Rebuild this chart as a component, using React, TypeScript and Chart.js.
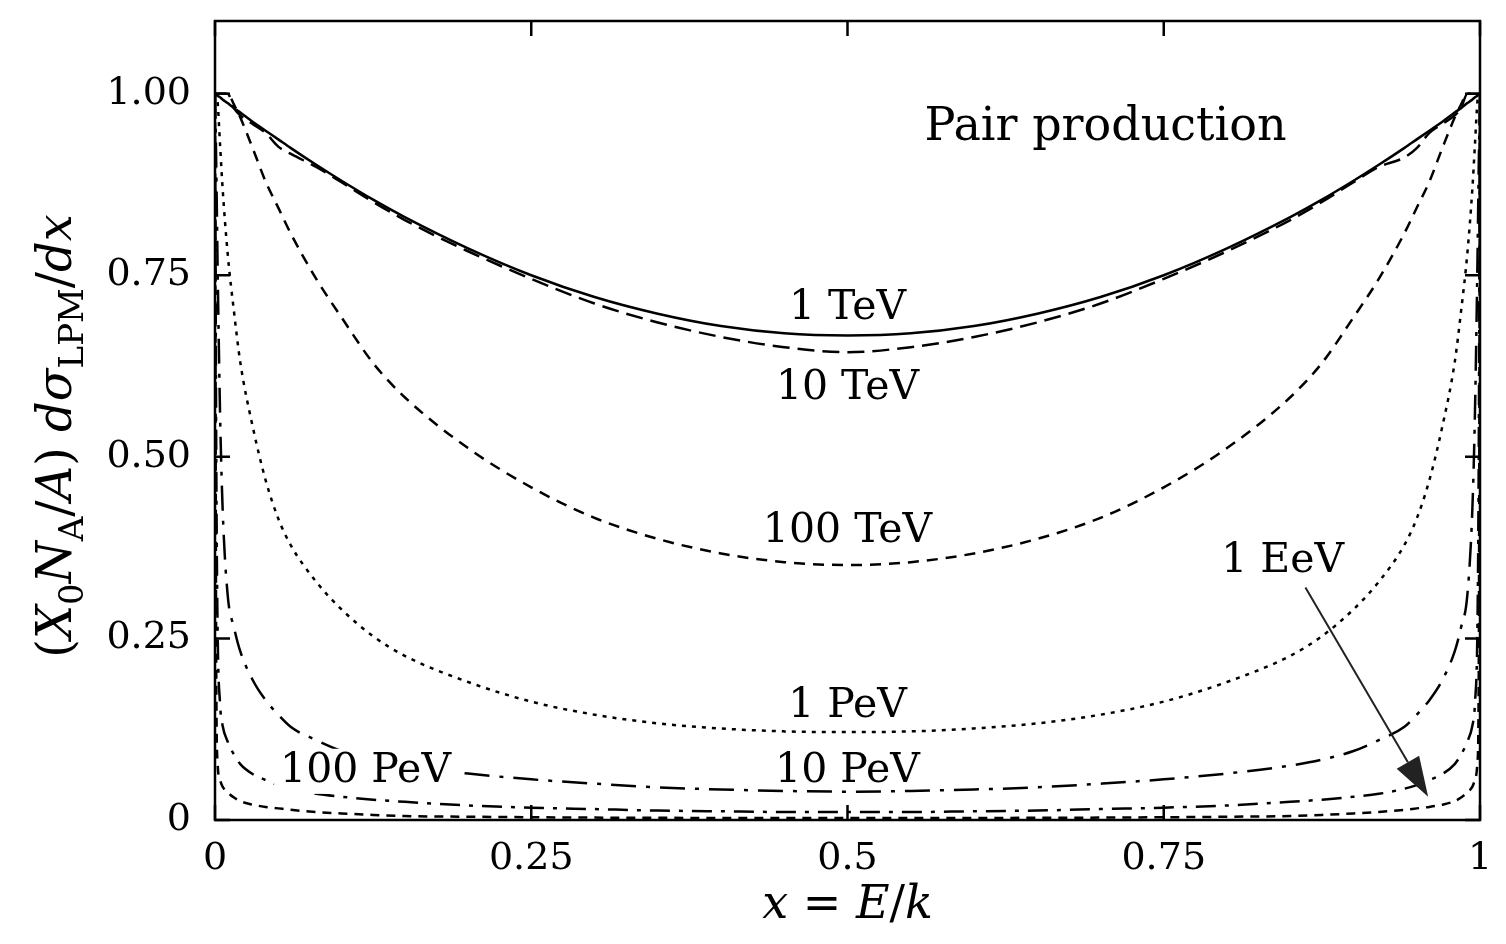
import { useEffect, useRef } from "react";
import { Chart, registerables } from "chart.js";

Chart.register(...registerables);

// x = E/k sample points (fine near the edges where the curves turn up)
const X_GRID = [
  0, 0.001, 0.002, 0.004, 0.006, 0.01, 0.015, 0.02, 0.03, 0.04, 0.05, 0.06,
  0.08, 0.1, 0.125, 0.15, 0.2, 0.25, 0.3, 0.35, 0.4, 0.45, 0.5, 0.55, 0.6,
  0.65, 0.7, 0.75, 0.8, 0.85, 0.875, 0.9, 0.92, 0.94, 0.95, 0.96, 0.97, 0.98,
  0.985, 0.99, 0.994, 0.996, 0.998, 0.999, 1,
];

const TEV_1 = [
  1.0, 0.999, 0.997, 0.995, 0.992, 0.987, 0.98, 0.974, 0.961, 0.949, 0.937,
  0.925, 0.902, 0.88, 0.854, 0.83, 0.787, 0.75, 0.72, 0.697, 0.68, 0.67, 0.667,
  0.67, 0.68, 0.697, 0.72, 0.75, 0.787, 0.83, 0.854, 0.88, 0.902, 0.925, 0.937,
  0.949, 0.961, 0.974, 0.98, 0.987, 0.992, 0.995, 0.997, 0.999, 1.0,
];
const TEV_10 = [
  1.0, 1.0, 1.0, 1.0, 1.0, 1.0, 0.98, 0.97, 0.958, 0.946, 0.927, 0.917, 0.899,
  0.878, 0.851, 0.826, 0.783, 0.745, 0.711, 0.685, 0.665, 0.651, 0.644, 0.651,
  0.665, 0.685, 0.711, 0.745, 0.783, 0.826, 0.851, 0.878, 0.899, 0.912, 0.925,
  0.946, 0.958, 0.97, 0.98, 1.0, 1.0, 1.0, 1.0, 1.0, 1.0,
];
const TEV_100 = [
  1.0, 1.0, 1.0, 1.0, 1.0, 1.0, 0.985, 0.967, 0.924, 0.879, 0.843, 0.807,
  0.745, 0.692, 0.629, 0.582, 0.512, 0.458, 0.416, 0.387, 0.367, 0.355, 0.351,
  0.355, 0.367, 0.387, 0.416, 0.458, 0.512, 0.582, 0.629, 0.692, 0.745, 0.807,
  0.843, 0.879, 0.924, 0.967, 0.985, 1.0, 1.0, 1.0, 1.0, 1.0, 1.0,
];
const PEV_1 = [
  1.0, 1.0, 0.99, 0.93, 0.87, 0.78, 0.7, 0.63, 0.54, 0.468, 0.415, 0.378, 0.328,
  0.29, 0.253, 0.226, 0.19, 0.163, 0.145, 0.133, 0.126, 0.122, 0.121, 0.122,
  0.126, 0.133, 0.145, 0.163, 0.19, 0.226, 0.253, 0.29, 0.328, 0.378, 0.415,
  0.468, 0.54, 0.63, 0.7, 0.78, 0.87, 0.93, 0.99, 1.0, 1.0,
];
const PEV_10 = [
  1.0, 0.9, 0.77, 0.56, 0.43, 0.31, 0.265, 0.232, 0.192, 0.165, 0.145, 0.128,
  0.11, 0.095, 0.083, 0.075, 0.064, 0.056, 0.05, 0.045, 0.042, 0.04, 0.039,
  0.04, 0.042, 0.045, 0.05, 0.056, 0.064, 0.075, 0.083, 0.095, 0.11, 0.128,
  0.145, 0.165, 0.192, 0.232, 0.265, 0.31, 0.43, 0.56, 0.77, 0.9, 1.0,
];
const PEV_100 = [
  1.0, 0.5, 0.27, 0.16, 0.13, 0.108, 0.09, 0.077, 0.063, 0.055, 0.048, 0.043,
  0.036, 0.032, 0.028, 0.025, 0.02, 0.017, 0.015, 0.013, 0.012, 0.011, 0.011,
  0.011, 0.012, 0.013, 0.015, 0.017, 0.02, 0.025, 0.028, 0.032, 0.036, 0.043,
  0.048, 0.055, 0.063, 0.077, 0.09, 0.108, 0.13, 0.16, 0.27, 0.5, 1.0,
];
const EEV_1 = [
  1.0, 0.2, 0.08, 0.055, 0.046, 0.038, 0.031, 0.026, 0.021, 0.018, 0.016,
  0.014, 0.011, 0.009, 0.007, 0.0055, 0.0045, 0.0038, 0.0033, 0.003, 0.0028,
  0.0027, 0.0027, 0.0027, 0.0028, 0.003, 0.0033, 0.0038, 0.0045, 0.0055, 0.007,
  0.009, 0.011, 0.014, 0.016, 0.018, 0.021, 0.026, 0.031, 0.038, 0.046, 0.055,
  0.08, 0.2, 1.0,
];

const SERIES_NAMES = ["1 TeV", "10 TeV", "100 TeV", "1 PeV", "10 PeV", "100 PeV", "1 EeV"];
const SERIES_VALUES = [TEV_1, TEV_10, TEV_100, PEV_1, PEV_10, PEV_100, EEV_1];
const SERIES_DASH = [[], [17, 8], [11, 8], [4, 6], [25, 10, 4, 10], [20, 9, 4, 9], [9, 7]];

const X_TICKS = [0, 0.25, 0.5, 0.75, 1];
const X_TICK_LABELS = ["0", "0.25", "0.5", "0.75", "1"];
const Y_TICKS = [0, 0.25, 0.5, 0.75, 1];
const Y_TICK_LABELS = ["0", "0.25", "0.50", "0.75", "1.00"];

const FONT = '"DejaVu Serif", serif';

// curve labels, placed in data coordinates
const NOTES = [
  { text: "Pair production", x: 0.704, y: 0.953, size: 46, bg: false },
  { text: "1 TeV", x: 0.5, y: 0.704, size: 41, bg: false },
  { text: "10 TeV", x: 0.5, y: 0.594, size: 41, bg: false },
  { text: "100 TeV", x: 0.5, y: 0.398, size: 41, bg: false },
  { text: "1 EeV", x: 0.844, y: 0.356, size: 41, bg: false },
  { text: "1 PeV", x: 0.5, y: 0.157, size: 41, bg: false },
  { text: "10 PeV", x: 0.5, y: 0.067, size: 41, bg: false },
  { text: "100 PeV", x: 0.119, y: 0.067, size: 41, bg: true },
];
const ARROW = { from: { x: 0.862, y: 0.32 }, to: { x: 0.959, y: 0.032 } };

type Seg = { t: string; it?: boolean; sub?: boolean };

const Y_TITLE: Seg[] = [
  { t: "(" },
  { t: "X", it: true },
  { t: "0", sub: true },
  { t: "N", it: true },
  { t: "A", sub: true },
  { t: "/" },
  { t: "A", it: true },
  { t: ") " },
  { t: "dσ", it: true },
  { t: "LPM", sub: true },
  { t: "/" },
  { t: "dx", it: true },
];
const X_TITLE: Seg[] = [
  { t: "x", it: true },
  { t: " = " },
  { t: "E", it: true },
  { t: "/" },
  { t: "k", it: true },
];

function drawRich(ctx: CanvasRenderingContext2D, segs: Seg[], cx: number, base: number, size: number) {
  const fontOf = (s: Seg) => `${s.it ? "italic " : ""}${s.sub ? Math.round(size * 0.7) : size}px ${FONT}`;
  let total = 0;
  const widths = segs.map((s) => {
    ctx.font = fontOf(s);
    const w = ctx.measureText(s.t).width;
    total += w;
    return w;
  });
  let x = cx - total / 2;
  ctx.textAlign = "left";
  ctx.textBaseline = "alphabetic";
  segs.forEach((s, i) => {
    ctx.font = fontOf(s);
    ctx.fillText(s.t, x, base + (s.sub ? size * 0.26 : 0));
    x += widths[i];
  });
}

const framePlugin = {
  id: "frame",
  afterDatasetsDraw(chart: Chart) {
    const { ctx, chartArea: a } = chart;
    const xs = chart.scales.x;
    const ys = chart.scales.y;
    const tick = 15;
    ctx.save();
    ctx.strokeStyle = "#000";
    ctx.fillStyle = "#000";
    ctx.lineWidth = 2.5;
    ctx.strokeRect(a.left, a.top, a.right - a.left, a.bottom - a.top);
    ctx.beginPath();
    X_TICKS.forEach((v) => {
      const px = xs.getPixelForValue(v);
      ctx.moveTo(px, a.bottom);
      ctx.lineTo(px, a.bottom - tick);
      ctx.moveTo(px, a.top);
      ctx.lineTo(px, a.top + tick);
    });
    Y_TICKS.forEach((v) => {
      const py = ys.getPixelForValue(v);
      ctx.moveTo(a.left, py);
      ctx.lineTo(a.left + tick, py);
      ctx.moveTo(a.right, py);
      ctx.lineTo(a.right - tick, py);
    });
    ctx.stroke();

    // curve labels
    NOTES.forEach((n) => {
      const px = xs.getPixelForValue(n.x);
      const py = ys.getPixelForValue(n.y);
      ctx.font = `${n.size}px ${FONT}`;
      ctx.textAlign = "center";
      ctx.textBaseline = "middle";
      if (n.bg) {
        const w = ctx.measureText(n.text).width;
        ctx.fillStyle = "#fff";
        ctx.fillRect(px - w / 2 - 6, py - n.size * 0.55, w + 12, n.size * 1.1);
        ctx.fillStyle = "#000";
      }
      ctx.fillText(n.text, px, py);
    });

    // arrow to the 1 EeV curve
    const x0 = xs.getPixelForValue(ARROW.from.x);
    const y0 = ys.getPixelForValue(ARROW.from.y);
    const x1 = xs.getPixelForValue(ARROW.to.x);
    const y1 = ys.getPixelForValue(ARROW.to.y);
    const ang = Math.atan2(y1 - y0, x1 - x0);
    const hl = 40;
    const hw = 13;
    const bx = x1 - hl * Math.cos(ang);
    const by = y1 - hl * Math.sin(ang);
    ctx.lineWidth = 2;
    ctx.strokeStyle = "#222";
    ctx.beginPath();
    ctx.moveTo(x0, y0);
    ctx.lineTo(bx, by);
    ctx.stroke();
    ctx.fillStyle = "#222";
    ctx.beginPath();
    ctx.moveTo(x1, y1);
    ctx.lineTo(bx + hw * Math.sin(ang), by - hw * Math.cos(ang));
    ctx.lineTo(bx - hw * Math.sin(ang), by + hw * Math.cos(ang));
    ctx.closePath();
    ctx.fill();

    // axis titles
    ctx.fillStyle = "#000";
    drawRich(ctx, X_TITLE, (a.left + a.right) / 2, 918, 46);
    ctx.save();
    ctx.translate(71, 436);
    ctx.rotate(-Math.PI / 2);
    drawRich(ctx, Y_TITLE, 0, 0, 48);
    ctx.restore();
    ctx.restore();
  },
};

export default function App() {
  const canvasRef = useRef<HTMLCanvasElement>(null);

  useEffect(() => {
    if (!canvasRef.current) return;
    const chart = new Chart(canvasRef.current, {
      type: "line",
      data: {
        datasets: SERIES_NAMES.map((name, i) => ({
          label: name,
          data: X_GRID.map((x, j) => ({ x, y: SERIES_VALUES[i][j] })),
          borderColor: "#000",
          borderWidth: 2.5,
          borderDash: SERIES_DASH[i],
          pointRadius: 0,
          fill: false,
          cubicInterpolationMode: "monotone" as const,
        })),
      },
      options: {
        animation: false,
        responsive: false,
        layout: { padding: { top: 21, right: 26, left: 0, bottom: 0 } },
        plugins: { legend: { display: false }, tooltip: { enabled: false } },
        scales: {
          x: {
            type: "linear",
            min: 0,
            max: 1,
            grid: { display: false, drawTicks: false },
            border: { display: false },
            afterBuildTicks: (s: any) => {
              s.ticks = X_TICKS.map((v) => ({ value: v }));
            },
            afterFit: (s: any) => {
              s.height = 124;
              s.paddingLeft = 0;
              s.paddingRight = 0;
            },
            ticks: {
              padding: 16,
              color: "#000",
              maxRotation: 0,
              font: { family: FONT, size: 38 },
              callback: (_v: any, i: number) => X_TICK_LABELS[i],
            },
          },
          y: {
            type: "linear",
            min: 0,
            max: 1.1,
            grid: { display: false, drawTicks: false },
            border: { display: false },
            afterBuildTicks: (s: any) => {
              s.ticks = Y_TICKS.map((v) => ({ value: v }));
            },
            afterFit: (s: any) => {
              s.width = 215;
              s.paddingTop = 0;
              s.paddingBottom = 0;
            },
            ticks: {
              padding: 24,
              color: "#000",
              font: { family: FONT, size: 38 },
              callback: (_v: any, i: number) => Y_TICK_LABELS[i],
            },
          },
        },
      },
      plugins: [framePlugin],
    });
    return () => chart.destroy();
  }, []);

  return (
    <div style={{ position: "absolute", left: 0, top: 0, width: 1506, height: 944, background: "#fff" }}>
      <canvas ref={canvasRef} width={1506} height={944} />
    </div>
  );
}
